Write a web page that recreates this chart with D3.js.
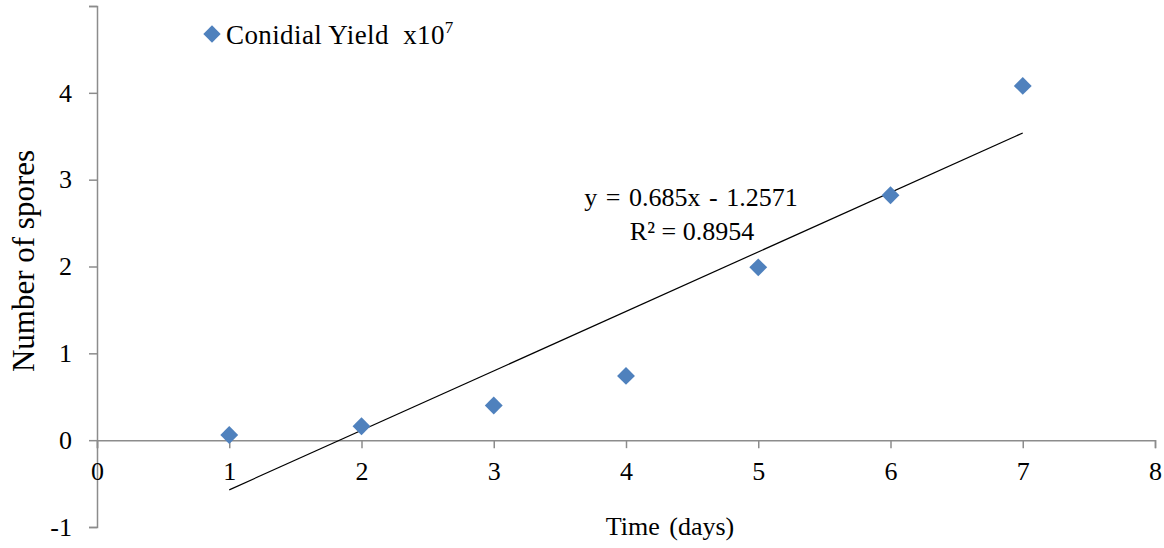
<!DOCTYPE html>
<html><head><meta charset="utf-8">
<script src="https://cdn.jsdelivr.net/npm/d3@7"></script>
<style>body{margin:0;background:#fff}svg{display:block}</style>
</head><body>
<svg id="c" width="1164" height="548"></svg>
<script>
const days = [1, 2, 3, 4, 5, 6, 7];
const spores = [0.06, 0.16, 0.40, 0.74, 1.99, 2.82, 4.08];
const xTicks = [0, 1, 2, 3, 4, 5, 6, 7, 8];
const yTicks = [-1, 0, 1, 2, 3, 4, 5];
const yLabels = ["-1", "0", "1", "2", "3", "4", ""];
const slope = 0.685, intercept = -1.2571;
const eqText = "y = 0.685x - 1.2571";
const r2Text = "R² = 0.8954";
const seriesName = "Conidial Yield  x10";

const svg = d3.select("#c");
const font = "'Liberation Serif','Times New Roman',serif";
const x = d3.scaleLinear().domain([0, 8]).range([97, 1155]);
const y = d3.scaleLinear().domain([-1, 5]).range([527, 6]);
const axisColor = "#8c8c8c";

// Y axis
const yAxis = d3.axisLeft(y).tickValues(yTicks).tickSize(8).tickPadding(17)
  .tickFormat((d, i) => yLabels[i]);
const gy = svg.append("g").attr("transform", `translate(${x(0)},0)`).call(yAxis);
gy.select(".domain").attr("stroke", axisColor).attr("stroke-width", 1.5);
gy.selectAll(".tick line").attr("stroke", axisColor).attr("stroke-width", 1.5);
gy.selectAll(".tick text").attr("font-family", font).attr("font-size", 26).attr("fill", "#000");

// X axis at y=0
const xAxis = d3.axisBottom(x).tickValues(xTicks).tickSize(8).tickPadding(13).tickFormat(d3.format("d"));
const gx = svg.append("g").attr("transform", `translate(0,${y(0)})`).call(xAxis);
gx.select(".domain").attr("stroke", axisColor).attr("stroke-width", 1.5);
gx.selectAll(".tick line").attr("stroke", axisColor).attr("stroke-width", 1.5);
gx.selectAll(".tick text").attr("font-family", font).attr("font-size", 26).attr("fill", "#000");

// Trendline
svg.append("line")
  .attr("x1", x(days[0])).attr("y1", y(slope * days[0] + intercept))
  .attr("x2", x(days[days.length - 1])).attr("y2", y(slope * days[days.length - 1] + intercept))
  .attr("stroke", "#000").attr("stroke-width", 1.2);

// Points
const diamond = d3.symbol().type(d3.symbolSquare).size(160);
svg.append("g").selectAll("path").data(days).join("path")
  .attr("d", diamond)
  .attr("transform", (d, i) => `translate(${x(d)},${y(spores[i])}) rotate(45)`)
  .attr("fill", "#4F81BD");

// Equation
svg.append("text").attr("x", 691).attr("y", 206).attr("text-anchor", "middle")
  .attr("font-family", font).attr("font-size", 26).attr("word-spacing", 2).text(eqText);
svg.append("text").attr("x", 692).attr("y", 240).attr("text-anchor", "middle")
  .attr("font-family", font).attr("font-size", 26).text(r2Text);

// Legend
svg.append("path").attr("d", d3.symbol().type(d3.symbolSquare).size(150))
  .attr("transform", "translate(212,34) rotate(45)").attr("fill", "#4F81BD");
const lt = svg.append("text").attr("x", 226).attr("y", 44)
  .attr("font-family", font).attr("font-size", 27).attr("letter-spacing", 0.4)
  .attr("xml:space", "preserve").text(seriesName);
lt.append("tspan").attr("font-size", 17).attr("dy", -11).text("7");

// Axis titles
svg.append("text").attr("transform", "translate(34,261) rotate(-90)").attr("text-anchor", "middle")
  .attr("font-family", font).attr("font-size", 31).text("Number of spores");
svg.append("text").attr("x", 670).attr("y", 535).attr("text-anchor", "middle")
  .attr("font-family", font).attr("font-size", 26).attr("word-spacing", 3).text("Time (days)");
</script>
</body></html>
